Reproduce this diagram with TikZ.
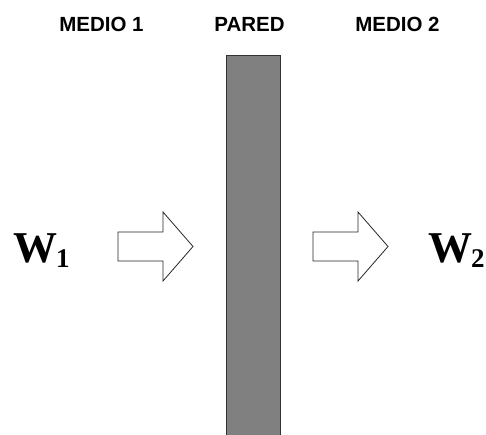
\documentclass[tikz,border=0pt]{standalone}
\usepackage{fontspec}
\setmainfont{Liberation Serif}[BoldFont={Liberation Serif Bold}]
\newfontfamily\lblfont{Liberation Sans}[BoldFont={Liberation Sans Bold}]
\tikzset{
  lbl/.style={font=\lblfont\bfseries\fontsize{20.5}{24}\selectfont, inner sep=0pt, anchor=base},
  wlbl/.style={font=\bfseries\fontsize{44}{50}\selectfont, inner sep=0pt, anchor=base west},
  bigarrow/.style={draw=black!85, fill=white, line width=0.8pt, line join=miter},
  wall/.style={fill=black!50, draw=black!80, line width=1pt}
}
\begin{document}
\begin{tikzpicture}[x=1pt,y=-1pt]
\useasboundingbox (0,0) rectangle (486,434);
% labels
\node[lbl] (m1) at (101.5,31) {MEDIO 1};
\node[lbl] (pa) at (249.5,31) {PARED};
\node[lbl] (m2) at (397.5,31) {MEDIO 2};
% wall
\fill[black!50] (226,55) rectangle (280,435);
\draw[draw=black!80, line width=1pt] (226,435) -- (226,55) -- (280,55) -- (280,435);
% arrows
\draw[bigarrow] (118,232) -- (163,232) -- (163,212) -- (193,246.5) -- (163,281) -- (163,261) -- (118,261) -- cycle;
\draw[bigarrow] (313,232) -- (358,232) -- (358,212) -- (388,246.5) -- (358,281) -- (358,261) -- (313,261) -- cycle;
% W labels
\node[wlbl] (w1) at (13,262) {W\kern-1pt\raisebox{-5pt}{\bfseries\fontsize{27}{30}\selectfont 1}};
\node[wlbl] (w2) at (428,262) {W\kern-1pt\raisebox{-5pt}{\bfseries\fontsize{27}{30}\selectfont 2}};
\end{tikzpicture}
\end{document}
